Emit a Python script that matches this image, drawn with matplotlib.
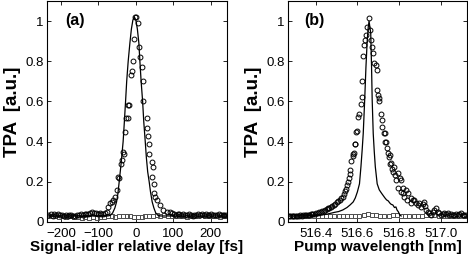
import matplotlib
matplotlib.use("Agg")
import matplotlib.pyplot as plt

plt.rcParams["font.family"] = ["Liberation Sans", "DejaVu Sans"]

# ---- panel (a): TPA vs signal-idler relative delay [fs] ----
a_line_x = [-237, -75, -68, -62, -56, -51.5, -48, -44.5, -40, -34, -31, -27.5, -24.5, -20.5,
            -16, -12, -8, -4, 0, 4, 8, 10.7, 14, 18, 21, 25, 28, 31.5, 35.5, 39, 43.5, 48,
            53, 59, 66, 243]
a_line_y = [0.03, 0.03, 0.033, 0.045, 0.07, 0.10, 0.14, 0.20, 0.28, 0.40, 0.49, 0.60, 0.70, 0.80,
            0.89, 0.96, 1.005, 1.02, 1.005, 0.96, 0.89, 0.80, 0.70, 0.60, 0.50, 0.40, 0.32, 0.25,
            0.20, 0.15, 0.10, 0.07, 0.045, 0.033, 0.03, 0.03]

a_circ_x = [-233, -227, -222, -217, -212, -207, -202, -197, -192, -187, -182, -177, -172, -167,
            -162, -157, -152, -147, -142, -137, -132, -127, -122, -117, -112, -107, -102, -97,
            -92, -87, -82, -77, -74, -69, -64, -60, -56, -51.5, -47, -44.5, -41, -38, -34, -32,
            -29, -27, -22, -20.5, -18, -14, -10, -7, -4.5, -1.5, 0, 6, 9, 10.7, 15, 19.5, 20,
            28.5, 30, 33, 35, 36, 42, 42.5, 46, 47, 49, 51, 57, 64, 71, 82, 91,
            96, 101, 106, 111, 116, 121, 126, 131, 136, 141, 146, 151, 156, 161, 166, 171, 176,
            181, 186, 191, 196, 201, 206, 211, 216, 221, 226, 231, 236, 241]
a_circ_y = [0.035, 0.038, 0.032, 0.040, 0.036, 0.038, 0.033, 0.037, 0.031, 0.034, 0.030, 0.033,
            0.036, 0.032, 0.030, 0.035, 0.033, 0.038, 0.036, 0.040, 0.038, 0.042, 0.045, 0.048,
            0.044, 0.046, 0.040, 0.043, 0.038, 0.040, 0.044, 0.050, 0.076, 0.093, 0.100, 0.109,
            0.126, 0.160, 0.225, 0.220, 0.290, 0.310, 0.350, 0.340, 0.450, 0.520, 0.580, 0.520,
            0.580, 0.730, 0.750, 0.800, 0.910, 1.020, 1.020, 0.990, 0.870, 0.820, 0.770, 0.700,
            0.600, 0.520, 0.470, 0.430, 0.390, 0.340, 0.300, 0.225, 0.275, 0.190, 0.146, 0.126,
            0.110, 0.085, 0.060, 0.051, 0.051,
            0.045, 0.040, 0.036, 0.042, 0.038, 0.035, 0.040, 0.037, 0.033, 0.038, 0.035, 0.032,
            0.036, 0.034, 0.038, 0.036, 0.040, 0.035, 0.038, 0.033, 0.036, 0.040, 0.036, 0.033,
            0.035, 0.038, 0.034, 0.036, 0.033, 0.037]

a_sq_x = [-235, -225, -215, -205, -195, -185, -175, -165, -155, -145, -135, -125, -115, -105,
          -95, -85, -75, -65, -55, -45, -35, -25, -15, -5, 5, 15, 25, 35, 45, 55, 65, 75, 85,
          95, 105, 115, 125, 135, 145, 155, 165, 175, 185, 195, 205, 215, 225, 235]
a_sq_y = [0.030, 0.028, 0.032, 0.027, 0.030, 0.025, 0.028, 0.024, 0.027, 0.022, 0.026, 0.022,
          0.024, 0.021, 0.025, 0.023, 0.028, 0.030, 0.026, 0.030, 0.032, 0.030, 0.028, 0.025,
          0.027, 0.026, 0.028, 0.030, 0.032, 0.035, 0.030, 0.033, 0.028, 0.030, 0.032, 0.028,
          0.030, 0.027, 0.030, 0.032, 0.028, 0.033, 0.030, 0.028, 0.032, 0.030, 0.026, 0.030]

# ---- panel (b): TPA vs pump wavelength [nm] ----
b_line_x = [516.27, 516.30, 516.34, 516.38, 516.42, 516.45, 516.47, 516.49, 516.51, 516.53,
            516.55, 516.565, 516.58, 516.59, 516.60, 516.61, 516.617, 516.623, 516.628, 516.635,
            516.641, 516.647, 516.652, 516.656, 516.660, 516.664, 516.668, 516.671, 516.676,
            516.681, 516.686, 516.695, 516.705, 516.716, 516.725, 516.732, 516.740, 516.748,
            516.756, 516.762, 516.770, 516.778, 516.785, 516.790, 516.797, 516.803, 516.810]
b_line_y = [0.030, 0.030, 0.031, 0.032, 0.034, 0.038, 0.043, 0.048, 0.052, 0.060, 0.072, 0.085,
            0.10, 0.12, 0.15, 0.19, 0.275, 0.36, 0.44, 0.607, 0.77, 0.90, 0.97, 1.0, 0.97, 0.94,
            0.77, 0.607, 0.44, 0.35, 0.275, 0.19, 0.16, 0.143, 0.13, 0.12, 0.11, 0.105, 0.094,
            0.088, 0.085, 0.072, 0.075, 0.06, 0.05, 0.035, 0.030]

b_circ_x = [516.270, 516.277, 516.284, 516.291, 516.298, 516.305, 516.312, 516.319, 516.326,
            516.333, 516.340, 516.347, 516.354, 516.361, 516.368, 516.375, 516.382, 516.389,
            516.396, 516.403, 516.410, 516.417, 516.424, 516.431, 516.438, 516.445, 516.452,
            516.459, 516.466, 516.473, 516.480, 516.487, 516.494, 516.501, 516.508, 516.515,
            516.522, 516.529, 516.536, 516.542, 516.547, 516.551, 516.555, 516.559, 516.563,
            516.565, 516.569, 516.577, 516.580, 516.583, 516.587, 516.590, 516.595, 516.597,
            516.605, 516.608, 516.616, 516.620, 516.623, 516.628, 516.633, 516.636, 516.641,
            516.648, 516.656, 516.660, 516.664, 516.668, 516.673, 516.681, 516.688, 516.692,
            516.692, 516.700, 516.702, 516.704, 516.713, 516.718, 516.720, 516.727, 516.731,
            516.733, 516.738, 516.743, 516.747, 516.750, 516.755, 516.757, 516.762, 516.765,
            516.770, 516.778, 516.780, 516.785, 516.795, 516.795, 516.803, 516.810, 516.810,
            516.819, 516.820, 516.825, 516.835, 516.843, 516.840, 516.855, 516.858, 516.865,
            516.874, 516.882, 516.890, 516.898, 516.906, 516.914, 516.922, 516.926, 516.930,
            516.938, 516.946, 516.954, 516.962, 516.970, 516.978, 516.986, 516.994, 517.002,
            517.010, 517.018, 517.026, 517.034, 517.042, 517.050, 517.058, 517.066, 517.074,
            517.082, 517.090, 517.098, 517.106, 517.114, 517.122]
b_circ_y = [0.030, 0.030, 0.031, 0.030, 0.031, 0.032, 0.031, 0.032, 0.033, 0.032, 0.034, 0.034,
            0.035, 0.036, 0.037, 0.038, 0.040, 0.041, 0.042, 0.044, 0.046, 0.048, 0.050, 0.053,
            0.057, 0.060, 0.064, 0.068, 0.072, 0.076, 0.080, 0.086, 0.092, 0.098, 0.103, 0.110,
            0.118, 0.125, 0.140, 0.152, 0.165, 0.184, 0.200, 0.217, 0.240, 0.259, 0.305, 0.330,
            0.338, 0.342, 0.390, 0.390, 0.449, 0.453, 0.525, 0.540, 0.587, 0.620, 0.700, 0.826,
            0.880, 0.906, 0.930, 0.972, 1.013, 0.958, 0.906, 0.873, 0.843, 0.793, 0.781, 0.756,
            0.657, 0.632, 0.615, 0.600, 0.540, 0.507, 0.475, 0.441, 0.441, 0.400, 0.400, 0.367,
            0.342, 0.325, 0.333, 0.289, 0.292, 0.262, 0.250, 0.275, 0.234, 0.209, 0.242, 0.168,
            0.217, 0.209, 0.151, 0.168, 0.146, 0.126, 0.159, 0.143, 0.110, 0.094, 0.118, 0.110,
            0.109, 0.095, 0.085, 0.093, 0.076, 0.090, 0.101, 0.080, 0.060, 0.052, 0.045, 0.035,
            0.050, 0.060, 0.068, 0.052, 0.045, 0.035, 0.040, 0.045, 0.040, 0.043, 0.036, 0.038,
            0.033, 0.035, 0.040, 0.034, 0.038, 0.043, 0.036, 0.033, 0.035]

b_sq_x = [516.27, 516.29, 516.31, 516.33, 516.35, 516.37, 516.39, 516.41, 516.43, 516.45,
          516.47, 516.49, 516.51, 516.53, 516.55, 516.57, 516.59, 516.61, 516.63, 516.65,
          516.67, 516.69, 516.71, 516.73, 516.75, 516.77, 516.79, 516.81, 516.83, 516.85,
          516.87, 516.89, 516.91, 516.93, 516.95, 516.97, 516.99, 517.01, 517.03, 517.05,
          517.07, 517.09, 517.11]
b_sq_y = [0.030, 0.030, 0.031, 0.030, 0.031, 0.030, 0.029, 0.030, 0.031, 0.030, 0.029, 0.028,
          0.030, 0.031, 0.032, 0.030, 0.029, 0.030, 0.033, 0.038, 0.037, 0.034, 0.032, 0.030,
          0.031, 0.033, 0.035, 0.032, 0.030, 0.029, 0.030, 0.028, 0.030, 0.034, 0.036, 0.033,
          0.032, 0.030, 0.031, 0.032, 0.030, 0.031, 0.030]

a_xticks = [-200, -100, 0, 100, 200]
b_xticks = [516.4, 516.6, 516.8, 517.0]
b_xticklabels = ["516.4", "516.6", "516.8", "517.0"]
yticks = [0, 0.2, 0.4, 0.6, 0.8, 1]
yticklabels = ["0", "0.2", "0.4", "0.6", "0.8", "1"]


def style_axes(ax):
    ax.set_ylim(0, 1.1)
    ax.set_yticks(yticks)
    ax.set_yticklabels(yticklabels)
    ax.tick_params(direction="in", top=True, right=True, length=3, width=0.6,
                   labelsize=9.5, pad=4)
    ax.tick_params(axis="y", pad=2.5)
    for s in ax.spines.values():
        s.set_linewidth(0.8)
    ax.set_ylabel("TPA  [a.u.]", fontsize=13.5, fontweight="bold", labelpad=3)


fig = plt.figure(figsize=(4.68, 2.63), dpi=100)
ax_a = fig.add_axes([47 / 468, 41 / 263, 180 / 468, 221 / 263])
ax_b = fig.add_axes([288 / 468, 41 / 263, 179 / 468, 221 / 263])

mk = dict(linestyle="none", markerfacecolor="none", markeredgewidth=0.7)

ax_a.plot(a_sq_x, a_sq_y, marker="s", markersize=2.8, markeredgecolor="0.3", **mk)
ax_a.plot(a_circ_x, a_circ_y, marker="o", markersize=3.5, markeredgecolor="black", **mk)
ax_a.plot(a_line_x, a_line_y, color="black", linewidth=0.9)
ax_a.set_xlim(-237, 243)
ax_a.set_xticks(a_xticks)
style_axes(ax_a)
ax_a.set_xlabel("Signal-idler relative delay [fs]", fontsize=11, fontweight="bold", labelpad=0.5)
ax_a.text(0.1, 0.91, "(a)", transform=ax_a.transAxes, fontsize=11.5, fontweight="bold",
          va="center", ha="left")

ax_b.plot(b_sq_x, b_sq_y, marker="s", markersize=2.8, markeredgecolor="0.3", **mk)
ax_b.plot(b_circ_x, b_circ_y, marker="o", markersize=3.5, markeredgecolor="black", **mk)
ax_b.plot(b_line_x, b_line_y, color="black", linewidth=0.9)
ax_b.set_xlim(516.267, 517.126)
ax_b.set_xticks(b_xticks)
ax_b.set_xticklabels(b_xticklabels)
style_axes(ax_b)
ax_b.set_xlabel("Pump wavelength [nm]", fontsize=11, fontweight="bold", labelpad=0.5)
ax_b.text(0.09, 0.91, "(b)", transform=ax_b.transAxes, fontsize=11.5, fontweight="bold",
          va="center", ha="left")

fig.savefig("out.png", dpi=100)
